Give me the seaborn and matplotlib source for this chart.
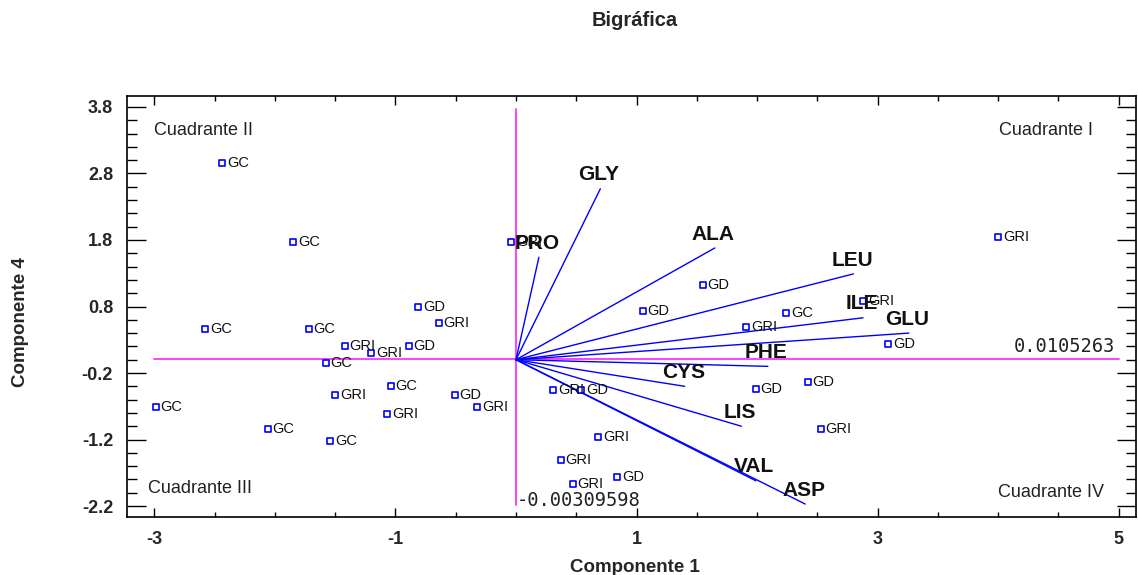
import numpy as np
import pandas as pd
import matplotlib
matplotlib.use("Agg")
import matplotlib.pyplot as plt
from matplotlib.ticker import MultipleLocator, FixedLocator
import seaborn as sns

# ---------------- data ----------------
obs_labels = ["GC", "GC", "GRI", "GC", "GC", "GD", "GRI", "GRI", "GRI", "GD",
              "GC", "GC", "GRI", "GD", "GRI", "GC", "GRI", "GC", "GC",
              "GD", "GD", "GC", "GRI", "GRI", "GD", "GRI", "GD", "GRI",
              "GRI", "GD", "GD", "GRI", "GRI", "GD", "GRI"]
obs_x = [-2.44, -1.85, -0.04, -2.58, -1.72, -0.81, -0.64, -1.42, -1.20, -0.89,
         -1.58, -1.04, -1.50, -0.51, -0.32, -2.99, -1.07, -2.06, -1.54,
         1.55, 1.05, 2.24, 1.91, 2.88, 3.09, 4.00, 2.42, 2.53,
         0.31, 0.54, 1.99, 0.68, 0.37, 0.84, 0.47]
obs_y = [2.96, 1.77, 1.77, 0.46, 0.46, 0.79, 0.55, 0.21, 0.10, 0.21,
         -0.05, -0.40, -0.53, -0.53, -0.71, -0.71, -0.82, -1.04, -1.22,
         1.13, 0.73, 0.70, 0.49, 0.89, 0.24, 1.85, -0.33, -1.04,
         -0.46, -0.46, -0.44, -1.16, -1.51, -1.77, -1.87]

var_names = ["GLY", "PRO", "ALA", "LEU", "ILE", "GLU", "PHE", "CYS", "LIS", "VAL", "ASP"]
var_x = [0.70, 0.19, 1.65, 2.80, 2.88, 3.26, 2.09, 1.40, 1.87, 1.99, 2.40]
var_y = [2.57, 1.54, 1.68, 1.29, 0.63, 0.40, -0.10, -0.40, -1.00, -1.82, -2.17]

ref_x = -0.00309598
ref_y = 0.0105263
quadrants = ["Cuadrante I", "Cuadrante II", "Cuadrante III", "Cuadrante IV"]
x_ticks = [-3, -1, 1, 3, 5]
y_ticks = [3.8, 2.8, 1.8, 0.8, -0.2, -1.2, -2.2]

title = "Bigráfica"
xlabel = "Componente 1"
ylabel = "Componente 4"

# ---------------- style ----------------
sns.set_theme(style="white")
plt.rcParams["font.family"] = ["Liberation Sans", "DejaVu Sans"]

fig = plt.figure(figsize=(11.38, 5.75), dpi=100)
ax = fig.add_axes([127 / 1138, 1 - 517 / 575, (1136 - 127) / 1138, (517 - 96) / 575])

df = pd.DataFrame({"x": obs_x, "y": obs_y, "grupo": obs_labels})

# reference lines
ax.plot([ref_x, ref_x], [3.77, -2.18], color="#ff33ff", lw=1.3, zorder=1)
ax.plot([-3.0, 5.0], [ref_y, ref_y], color="#ff33ff", lw=1.3, zorder=1)
ax.text(5.0 - 0.03, ref_y + 0.04, f"{ref_y:g}", family="DejaVu Sans Mono",
        fontsize=13.5, color="#222222", ha="right", va="bottom")
ax.text(ref_x + 0.01, -2.12, f"{ref_x:g}", family="DejaVu Sans Mono",
        fontsize=13.5, color="#222222", ha="left", va="center")

# variable vectors
for name, vx, vy in zip(var_names, var_x, var_y):
    ax.plot([0, vx], [0, vy], color="#0000ff", lw=1.0, zorder=2)
    ax.annotate(name, (vx, vy), xytext=(-1, 10), textcoords="offset points",
                ha="center", va="center", fontsize=15, fontweight="bold",
                color="#111111", zorder=4)

# observations
sns.scatterplot(data=df, x="x", y="y", ax=ax, marker="s", s=22,
                facecolor="white", edgecolor="#0000ff", linewidth=1.2,
                zorder=3, legend=False)
for lab, px, py in zip(obs_labels, obs_x, obs_y):
    ax.annotate(lab, (px, py), xytext=(3.5, 0), textcoords="offset points",
                ha="left", va="center", fontsize=10.5, color="#111111", zorder=3)

# quadrant labels
ax.text(4.79, 3.45, quadrants[0], ha="right", va="center", fontsize=13, color="#222222")
ax.text(-3.0, 3.45, quadrants[1], ha="left", va="center", fontsize=13, color="#222222")
ax.text(-3.05, -1.93, quadrants[2], ha="left", va="center", fontsize=13, color="#222222")
ax.text(4.0, -1.99, quadrants[3], ha="left", va="center", fontsize=13, color="#222222")

# axes formatting
ax.set_xlim(-3.228, 5.145)
ax.set_ylim(-2.365, 3.965)
ax.xaxis.set_major_locator(FixedLocator(x_ticks))
ax.xaxis.set_minor_locator(MultipleLocator(0.5))
ax.yaxis.set_major_locator(FixedLocator(y_ticks))
ax.yaxis.set_minor_locator(FixedLocator(np.round(np.arange(-2.2, 3.81, 0.2), 2)))
ax.set_xticklabels([str(t) for t in x_ticks])
ax.set_yticklabels([f"{t:.1f}" for t in y_ticks])
ax.tick_params(axis="x", which="major", direction="in", length=6.5, width=1.0,
               top=True, bottom=True, pad=10, labelsize=13, color="black")
ax.tick_params(axis="x", which="minor", direction="in", length=3.6, width=1.0,
               top=True, bottom=True, color="black")
ax.tick_params(axis="y", which="major", direction="in", length=14, width=1.0,
               left=True, right=True, pad=10, labelsize=13, color="black")
ax.tick_params(axis="y", which="minor", direction="in", length=7.5, width=1.0,
               left=True, right=True, color="black")
for lbl in ax.get_xticklabels() + ax.get_yticklabels():
    lbl.set_fontweight("bold")
for sp in ax.spines.values():
    sp.set_color("black")
    sp.set_linewidth(1.2)
ax.set_xlabel("")
ax.set_ylabel("")
ax.grid(False)

fig.text(635 / 1138, 1 - 21 / 575, title, ha="center", va="center",
         fontsize=14.5, fontweight="bold")
fig.text(635 / 1138, 1 - 567 / 575, xlabel, ha="center", va="center",
         fontsize=13.5, fontweight="bold")
fig.text(21 / 1138, 1 - 322 / 575, ylabel, ha="center", va="center",
         rotation=90, fontsize=13.5, fontweight="bold")

fig.savefig("out.png", dpi=100, facecolor="white")
